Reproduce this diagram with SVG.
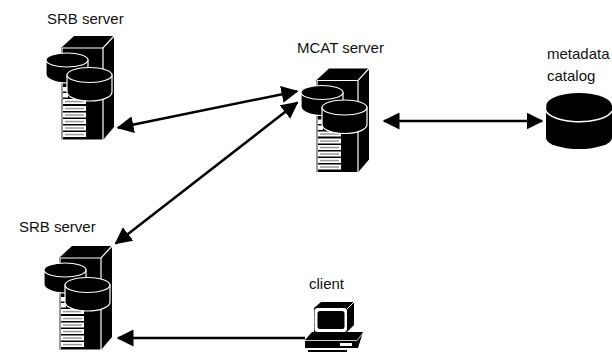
<svg xmlns="http://www.w3.org/2000/svg" width="612" height="352" viewBox="0 0 612 352">
<style>
text{font-family:"Liberation Sans",Arial,sans-serif;font-size:15px;fill:#111}
.w{fill:none;stroke:#fff;stroke-width:1.2}
.d{fill:#000;stroke:#fff;stroke-width:1.2}
.c{fill:none;stroke:#000;stroke-width:2.5;marker-start:url(#a);marker-end:url(#a)}
</style>
<defs>
<marker id="a" viewBox="0 0 17 17" refX="15.500" refY="8.500" markerWidth="17" markerHeight="17" markerUnits="userSpaceOnUse" orient="auto-start-reverse"><path d="M0 0L17 8.500L0 17Z" fill="#000"/></marker>
<marker id="e" viewBox="0 0 17 17" refX="15.500" refY="8.500" markerWidth="17" markerHeight="17" markerUnits="userSpaceOnUse" orient="auto"><path d="M0 0L17 8.500L0 17Z" fill="#000"/></marker>
<g id="srv">
<path d="M61 48L74 36H114V127L103 140H61Z" fill="#000"/>
<path class="w" d="M62 48H103L114 36M103 48V140M62 48V140H103"/>
<g fill="#fff">
<rect x="63" y="87" width="5" height="4.500"/><rect x="63" y="93" width="5" height="4.500"/>
<rect x="63" y="99" width="23" height="5"/><rect x="63" y="106" width="23" height="5"/><rect x="63" y="112.500" width="23" height="5"/><rect x="63" y="119" width="23" height="5"/><rect x="63" y="125.500" width="23" height="5"/><rect x="63" y="132" width="23" height="5"/>
</g>
<g fill="#999"><rect x="65" y="100.800" width="19" height="1.500"/><rect x="65" y="107.800" width="19" height="1.500"/><rect x="65" y="114.300" width="19" height="1.500"/><rect x="65" y="120.800" width="19" height="1.500"/><rect x="65" y="127.300" width="19" height="1.500"/><rect x="65" y="133.800" width="19" height="1.500"/></g>
<path class="d" d="M46 60V74C46 79 55 83 67 83S88 79 88 74V60Z"/>
<ellipse class="d" cx="67" cy="60" rx="21" ry="7"/>
<path class="d" d="M67 75V92C67 97 77 101 89.500 101S112 97 112 92V75Z"/>
<ellipse class="d" cx="89.500" cy="75" rx="22.500" ry="7.500"/>
</g>
</defs>
<g id="connectors">
<path class="c" d="M118 127.800L297 91.200"/>
<path class="c" d="M115.800 243.400L297.200 102.600"/>
<path class="c" d="M384 121H542"/>
<path d="M305 338H118" fill="none" stroke="#000" stroke-width="2.500" marker-end="url(#e)"/>
</g>
<g id="srb1"><text x="47" y="24">SRB server</text><use href="#srv"/></g>
<g id="mcat"><text x="297" y="53">MCAT server</text><use href="#srv" transform="translate(255 32.500)"/></g>
<g id="srb2"><text x="19" y="232">SRB server</text><use href="#srv" transform="translate(-2 210)"/></g>
<g id="catalog"><text x="547" y="59">metadata</text><text x="547" y="81">catalog</text>
<path d="M546 106V138A33 11 0 0 0 612 138V106A33 13 0 0 0 546 106Z" fill="#000"/>
<path d="M546 106A33 13 0 0 0 612 111" fill="none" stroke="#fff" stroke-width="1.500"/>
</g>
<g id="client"><text x="309" y="289">client</text>
<path d="M314 308L321 302H354V325L347 332H314Z" fill="#000"/>
<rect x="314.500" y="308" width="32.500" height="24" rx="3" fill="#fff"/>
<rect x="317.500" y="311" width="27" height="18" rx="2.500" fill="#000"/>
<path d="M347 309L354 302" stroke="#fff" stroke-width="1"/>
<path d="M305 340L312 332H363L358 348H305Z" fill="#000"/>
<path d="M305 340.500H357L363 333" fill="none" stroke="#fff" stroke-width=".8"/>
<rect x="340" y="343" width="12" height="3" fill="#fff"/>
<rect x="308" y="350" width="39" height="2" fill="#000"/>
</g>
</svg>
